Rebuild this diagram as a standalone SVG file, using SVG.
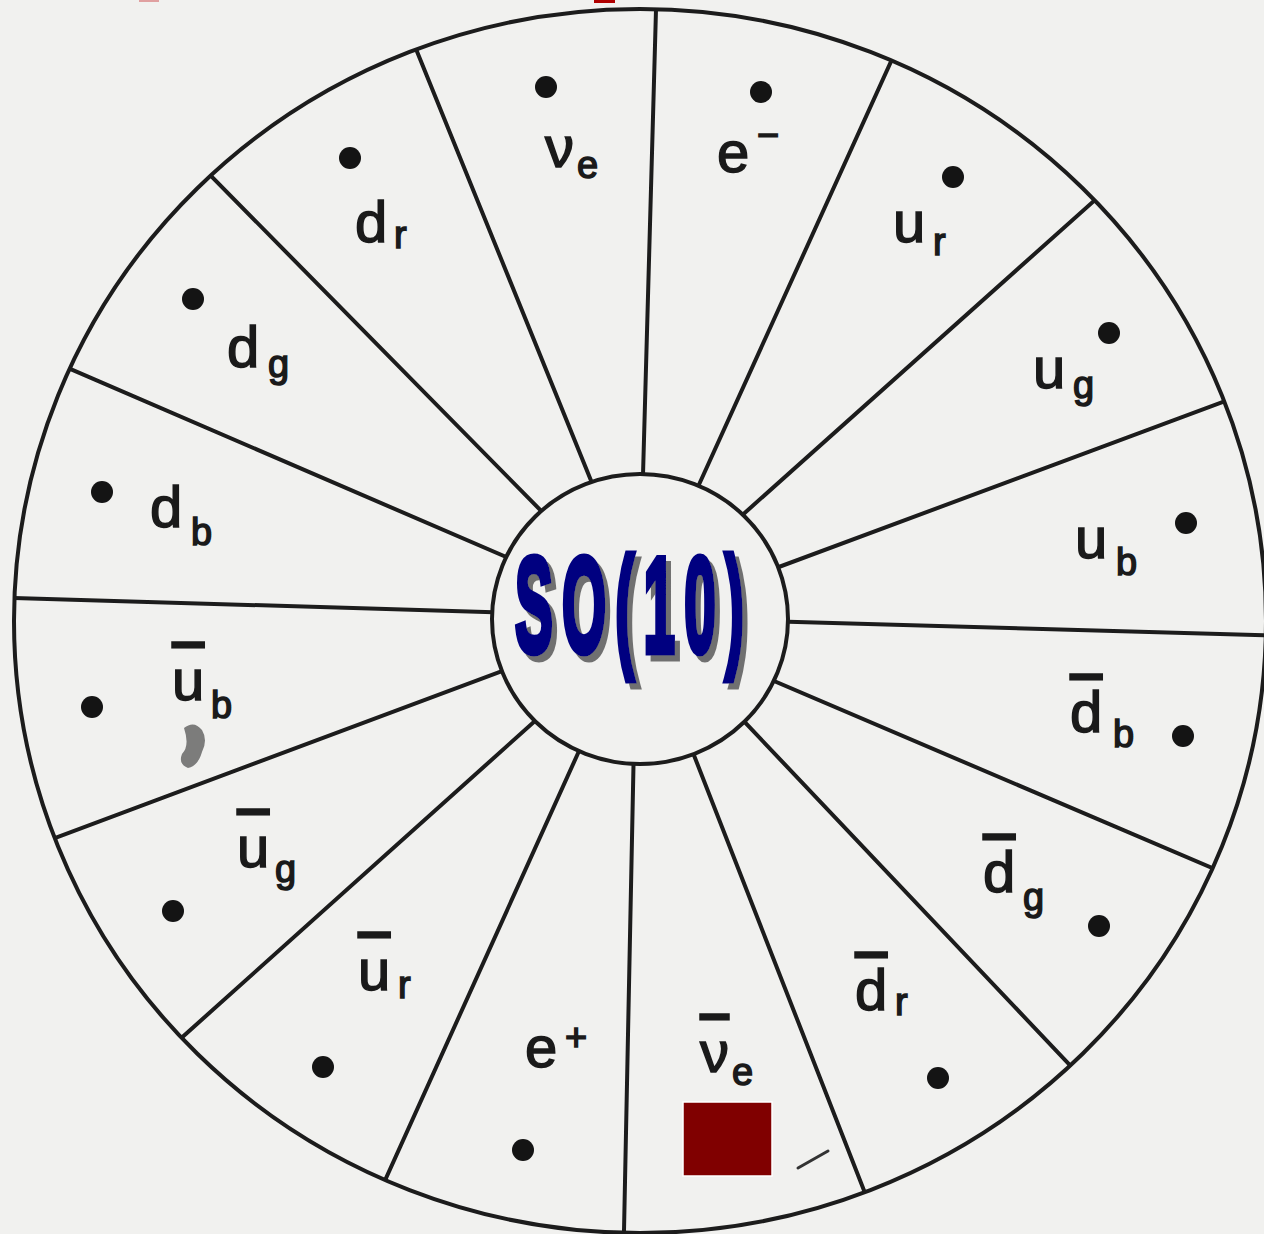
<svg xmlns="http://www.w3.org/2000/svg" width="1264" height="1234" viewBox="0 0 1264 1234">
<style>
.ln{stroke:#1c1c1c;stroke-width:4;fill:none;stroke-linecap:round}
.dot{fill:#141414}
.m{font-family:"Liberation Sans","DejaVu Sans",sans-serif;font-size:58px;fill:#1a1a1a;stroke:#1a1a1a;stroke-width:1.5}
.s{font-size:38px}
.ov{text-decoration:overline}
.hub{font-family:"Liberation Sans","DejaVu Sans",sans-serif;font-weight:bold;font-size:135px;letter-spacing:22px;stroke:#000080;stroke-width:7}
</style>
<defs>
<clipPath id="outer"><ellipse cx="640" cy="621" rx="626" ry="612"/></clipPath>
<filter id="shadow" x="-10%" y="-10%" width="130%" height="130%">
<feOffset in="SourceAlpha" dx="5" dy="6" result="off"/>
<feFlood flood-color="#707070"/>
<feComposite in2="off" operator="in" result="sh"/>
<feMerge><feMergeNode in="sh"/><feMergeNode in="SourceGraphic"/></feMerge>
</filter>
</defs>
<rect width="1264" height="1234" fill="#f1f1ef"/>
<rect x="139" y="0" width="20" height="2" fill="#e0a0a0"/>
<rect x="594" y="0" width="21" height="3" fill="#b00000"/>
<g id="outer-ring"><ellipse class="ln" cx="640" cy="621" rx="626" ry="612"/></g>
<g id="connectors" clip-path="url(#outer)">
<line class="ln" x1="643" y1="475" x2="658" y2="-62"/>
<line class="ln" x1="692" y1="500" x2="928" y2="-20"/>
<line class="ln" x1="720" y1="535" x2="1180" y2="124"/>
<line class="ln" x1="760" y1="574" x2="1290" y2="377"/>
<line class="ln" x1="760" y1="621" x2="1290" y2="636"/>
<line class="ln" x1="760" y1="675" x2="1280" y2="897"/>
<line class="ln" x1="720" y1="696" x2="1120" y2="1118"/>
<line class="ln" x1="688" y1="740" x2="899" y2="1280"/>
<line class="ln" x1="634" y1="740" x2="623" y2="1280"/>
<line class="ln" x1="584" y1="740" x2="340" y2="1280"/>
<line class="ln" x1="545" y1="712" x2="120" y2="1093"/>
<line class="ln" x1="510" y1="668" x2="-20" y2="866"/>
<line class="ln" x1="520" y1="613" x2="-20" y2="597"/>
<line class="ln" x1="520" y1="563" x2="-20" y2="330"/>
<line class="ln" x1="560" y1="530" x2="150" y2="114"/>
<line class="ln" x1="607" y1="520" x2="388" y2="-20"/>
</g>
<g id="hub">
<ellipse cx="640" cy="619" rx="148" ry="145" fill="#f1f1ef" stroke="#1c1c1c" stroke-width="4"/>
<g filter="url(#shadow)"><text class="hub" transform="translate(634,652) scale(0.42,1)" text-anchor="middle" fill="#000080">SO(10)</text></g>
</g>
<g id="nu_e"><circle class="dot" cx="546" cy="87" r="11"/><text class="m"><tspan x="545" y="167">ν</tspan><tspan class="s" x="577" y="178">e</tspan></text></g>
<g id="e_minus"><circle class="dot" cx="761" cy="92" r="11"/><text class="m"><tspan x="717" y="172">e</tspan><tspan class="s" x="757" y="148">−</tspan></text></g>
<g id="u_r"><circle class="dot" cx="953" cy="177" r="11"/><text class="m"><tspan x="893" y="242">u</tspan><tspan class="s" x="933" y="255">r</tspan></text></g>
<g id="u_g"><circle class="dot" cx="1109" cy="333" r="11"/><text class="m"><tspan x="1033" y="388">u</tspan><tspan class="s" x="1073" y="398">g</tspan></text></g>
<g id="u_b"><circle class="dot" cx="1186" cy="523" r="11"/><text class="m"><tspan x="1075" y="558">u</tspan><tspan class="s" x="1116" y="575">b</tspan></text></g>
<g id="dbar_b"><circle class="dot" cx="1183" cy="736" r="11"/><text class="m"><tspan class="ov" x="1070" y="732">d</tspan><tspan class="s" x="1113" y="747">b</tspan></text></g>
<g id="dbar_g"><circle class="dot" cx="1099" cy="926" r="11"/><text class="m"><tspan class="ov" x="983" y="892">d</tspan><tspan class="s" x="1023" y="910">g</tspan></text></g>
<g id="dbar_r"><circle class="dot" cx="938" cy="1078" r="11"/><text class="m"><tspan class="ov" x="855" y="1010">d</tspan><tspan class="s" x="895" y="1015">r</tspan></text></g>
<g id="nubar_e"><text class="m"><tspan class="ov" x="700" y="1072">ν</tspan><tspan class="s" x="732" y="1085">e</tspan></text>
<rect x="683" y="1102" width="89" height="74" fill="#800000" stroke="#ffffff" stroke-width="1.5"/></g>
<g id="e_plus"><circle class="dot" cx="523" cy="1150" r="11"/><text class="m"><tspan x="525" y="1067">e</tspan><tspan class="s" x="565" y="1050">+</tspan></text></g>
<g id="ubar_r"><circle class="dot" cx="323" cy="1067" r="11"/><text class="m"><tspan class="ov" x="358" y="990">u</tspan><tspan class="s" x="398" y="998">r</tspan></text></g>
<g id="ubar_g"><circle class="dot" cx="173" cy="911" r="11"/><text class="m"><tspan class="ov" x="237" y="867">u</tspan><tspan class="s" x="275" y="882">g</tspan></text></g>
<g id="ubar_b"><circle class="dot" cx="92" cy="707" r="11"/><text class="m"><tspan class="ov" x="172" y="700">u</tspan><tspan class="s" x="211" y="718">b</tspan></text></g>
<g id="d_b"><circle class="dot" cx="102" cy="492" r="11"/><text class="m"><tspan x="150" y="527">d</tspan><tspan class="s" x="191" y="545">b</tspan></text></g>
<g id="d_g"><circle class="dot" cx="193" cy="299" r="11"/><text class="m"><tspan x="227" y="367">d</tspan><tspan class="s" x="268" y="377">g</tspan></text></g>
<g id="d_r"><circle class="dot" cx="350" cy="158" r="11"/><text class="m"><tspan x="355" y="242">d</tspan><tspan class="s" x="394" y="248">r</tspan></text></g>
<g id="marks">
<path d="M184 728 q10 -8 18 2 q6 10 0 22 q-4 14 -14 16 q-10 -4 -6 -14 q8 -8 2 -26z" fill="#4a4a4a" opacity="0.7"/>
<path d="M798 1168 L828 1151" stroke="#333" stroke-width="3" stroke-linecap="round"/>
</g>
</svg>
